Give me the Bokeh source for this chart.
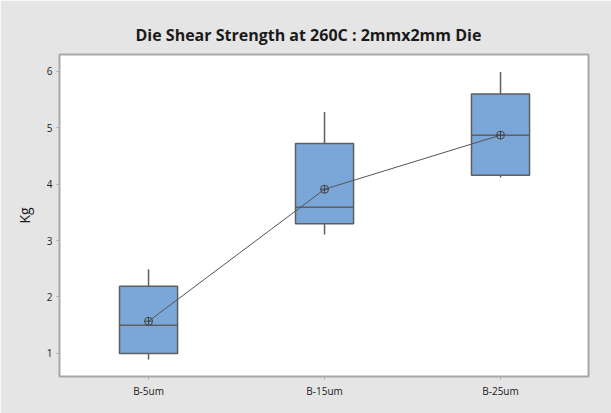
from bokeh.plotting import figure
from bokeh.models import ColumnDataSource, FixedTicker
from bokeh.embed import file_html
from bokeh.resources import INLINE

# Die shear strength summary per bond group
groups = ["B-5um", "B-15um", "B-25um"]
positions = [1, 2, 3]
whisker_low = [0.89, 3.11, 4.12]
q1 = [1.00, 3.30, 4.16]
median = [1.50, 3.59, 4.87]
q3 = [2.19, 4.72, 5.60]
whisker_high = [2.49, 5.28, 5.99]
mean = [1.57, 3.91, 4.87]

BOX_W = 0.33
src = ColumnDataSource(dict(
    x=positions, lo=whisker_low, q1=q1, med=median, q3=q3, hi=whisker_high, mean=mean,
    left=[p - BOX_W / 2 for p in positions], right=[p + BOX_W / 2 for p in positions],
))

FONT = "Open Sans"
BG = "#e5e5e5"
EDGE = "#5f5f5f"

p = figure(width=611, height=413, output_backend="svg", toolbar_location=None,
           x_range=(0.494, 3.5), y_range=(0.59, 6.30),
           min_border_left=59, min_border_right=23, min_border_top=54, min_border_bottom=37,
           background_fill_color="white", border_fill_color=BG)

p.title.text = "Die Shear Strength at 260C : 2mmx2mm Die"
p.title.align = "left"
p.title.text_font = FONT
p.title.text_font_size = "16px"
p.title.text_font_style = "bold"
p.title.text_color = "#1a1a1a"
p.title.offset = 76
p.title.standoff = 17

p.outline_line_color = "#a8a8a8"
p.outline_line_width = 2
p.grid.visible = False

p.xaxis.ticker = FixedTicker(ticks=positions)
p.xaxis.major_label_overrides = {pos: g for pos, g in zip(positions, groups)}
p.yaxis.ticker = FixedTicker(ticks=[1, 2, 3, 4, 5, 6])
for ax in (p.xaxis, p.yaxis):
    ax.axis_line_color = None
    ax.major_tick_line_color = "#a8a8a8"
    ax.major_tick_out = 3
    ax.major_tick_in = 0
    ax.minor_tick_line_color = None
    ax.major_label_text_font = FONT
    ax.major_label_text_font_size = "10px"
    ax.major_label_text_color = "#1a1a1a"
    ax.major_label_standoff = 4
p.yaxis.axis_label = "Kg"
p.yaxis.axis_label_text_font = FONT
p.yaxis.axis_label_text_font_size = "14px"
p.yaxis.axis_label_text_font_style = "normal"
p.yaxis.axis_label_text_color = "#1a1a1a"
p.yaxis.axis_label_standoff = 10

# whiskers
p.segment(x0="x", y0="q3", x1="x", y1="hi", source=src, line_color=EDGE, line_width=1.5)
p.segment(x0="x", y0="q1", x1="x", y1="lo", source=src, line_color=EDGE, line_width=1.5)
# boxes
p.vbar(x="x", width=BOX_W, top="q3", bottom="q1", source=src,
       fill_color="#7ba6d8", line_color=EDGE, line_width=1.5)
# medians
p.segment(x0="left", y0="med", x1="right", y1="med", source=src, line_color=EDGE, line_width=1.5)
# mean connect line and symbols
p.line(x="x", y="mean", source=src, line_color="#555555", line_width=1)
p.scatter(x="x", y="mean", source=src, marker="circle_cross", size=8,
          fill_color=None, line_color="#444444", line_width=1)

open("out.html", "w").write(file_html(p, INLINE))
